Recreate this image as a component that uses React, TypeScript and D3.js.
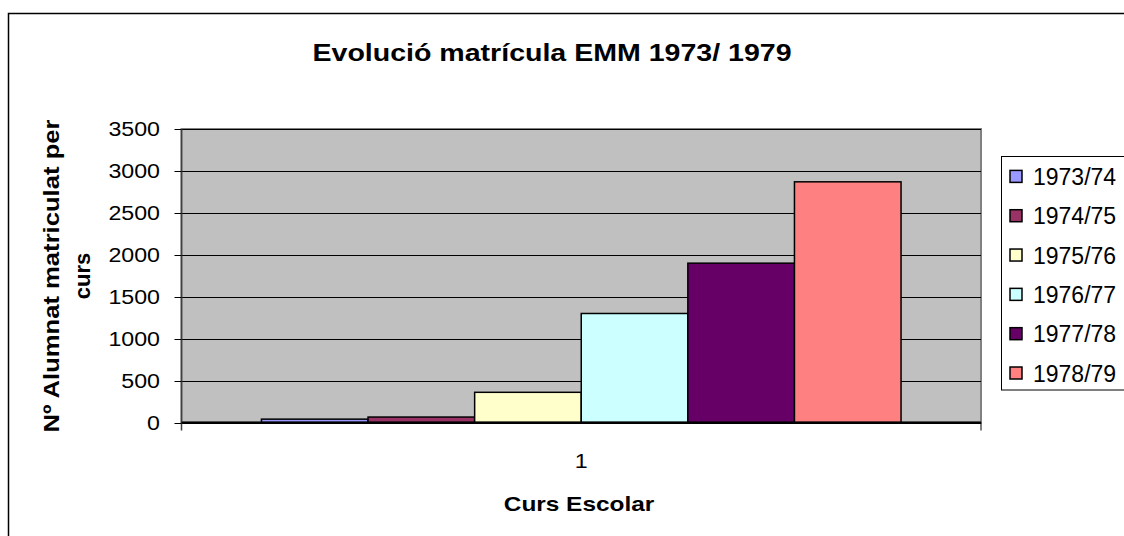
import React from "react";
import * as d3 from "d3";

const categories = ["1"];
const seriesNames = ["1973/74", "1974/75", "1975/76", "1976/77", "1977/78", "1978/79"];
const seriesValues = [40, 65, 360, 1300, 1900, 2870];
const seriesColors = ["#9999FF", "#993366", "#FFFFCC", "#CCFFFF", "#660066", "#FF8080"];
const yTicks = [0, 500, 1000, 1500, 2000, 2500, 3000, 3500];
const title = "Evolució matrícula EMM 1973/ 1979";
const yTitleLines = ["Nº Alumnat matriculat per", "curs"];
const xTitle = "Curs Escolar";

const FONT = "Arial, 'Liberation Sans', Helvetica, sans-serif";

export default function App() {
  const W = 1124;
  const H = 536;
  const plot = { left: 181.5, right: 981, top: 129, bottom: 422.5 };

  const x0 = d3.scaleBand<string>().domain(categories).range([plot.left, plot.right]);
  const y = d3.scaleLinear().domain([0, 3500]).range([plot.bottom, plot.top]);

  // Excel gap width 150% => group occupies 6/7.5 of the band
  const n = seriesNames.length;
  const bandW = x0.bandwidth();
  const barW = bandW / (n + 1.5);
  const groupStart = (x0(categories[0]) as number) + 0.75 * barW;
  const x1 = d3
    .scaleBand<string>()
    .domain(seriesNames)
    .range([groupStart, groupStart + n * barW]);

  const legendY = d3
    .scalePoint<string>()
    .domain(seriesNames)
    .range([176.4, 373]);

  const sx = 1.19;

  return (
    <svg width={W} height={H} style={{ position: "absolute", left: 0, top: 0, display: "block" }} fontFamily={FONT}>
      <rect x={0} y={0} width={W} height={H} fill="#ffffff" />
      {/* chart area border */}
      <rect x={8.5} y={13.5} width={W + 20} height={H + 20} fill="none" stroke="#000" strokeWidth={1.5} />

      {/* title */}
      <g transform={`translate(552,61) scale(${sx},1)`}>
        <text x={0} y={0} textAnchor="middle" fontWeight="bold" fontSize={24} fill="#000">
          {title}
        </text>
      </g>

      {/* plot area */}
      <rect
        x={plot.left}
        y={plot.top}
        width={plot.right - plot.left}
        height={plot.bottom - plot.top}
        fill="#C0C0C0"
        stroke="#808080"
        strokeWidth={2}
      />

      {/* gridlines */}
      {yTicks.map((t) => (
        <line
          key={"g" + t}
          x1={plot.left}
          x2={plot.right}
          y1={Math.round(y(t)) + 0.5}
          y2={Math.round(y(t)) + 0.5}
          stroke="#000"
          strokeWidth={1}
        />
      ))}

      {/* bars */}
      {categories.map((c) =>
        seriesNames.map((s, i) => (
          <rect
            key={c + s}
            x={x1(s) as number}
            y={y(seriesValues[i])}
            width={x1.bandwidth()}
            height={y(0) - y(seriesValues[i])}
            fill={seriesColors[i]}
            stroke="#000"
            strokeWidth={1.5}
          />
        ))
      )}

      {/* axes */}
      <line x1={plot.left} x2={plot.left} y1={plot.top} y2={plot.bottom + 8} stroke="#404040" strokeWidth={1.5} />
      <line x1={plot.left} x2={plot.right} y1={plot.bottom} y2={plot.bottom} stroke="#000" strokeWidth={2} />
      <line x1={plot.right} x2={plot.right} y1={plot.bottom} y2={plot.bottom + 8} stroke="#000" strokeWidth={1} />
      {yTicks.map((t) => (
        <line
          key={"t" + t}
          x1={plot.left - 7}
          x2={plot.left}
          y1={Math.round(y(t)) + 0.5}
          y2={Math.round(y(t)) + 0.5}
          stroke="#000"
          strokeWidth={1}
        />
      ))}

      {/* y tick labels */}
      {yTicks.map((t) => (
        <g key={"l" + t} transform={`translate(160,${y(t) + 7}) scale(${sx},1)`}>
          <text x={0} y={0} textAnchor="end" fontSize={19.5} fill="#000">
            {t}
          </text>
        </g>
      ))}

      {/* x tick label */}
      {categories.map((c) => (
        <g key={"x" + c} transform={`translate(${(x0(c) as number) + bandW / 2},468) scale(${sx},1)`}>
          <text x={0} y={0} textAnchor="middle" fontSize={19.5} fill="#000">
            {c}
          </text>
        </g>
      ))}

      {/* x title */}
      <g transform={`translate(579,511) scale(${sx},1)`}>
        <text x={0} y={0} textAnchor="middle" fontSize={20.5} fontWeight="bold" fill="#000">
          {xTitle}
        </text>
      </g>

      {/* y title */}
      <g transform="translate(59,276) rotate(-90)">
        <text x={0} y={0} textAnchor="middle" fontSize={22} fontWeight="bold" fill="#000" textLength={313} lengthAdjust="spacingAndGlyphs">
          {yTitleLines[0]}
        </text>
      </g>
      <g transform="translate(90,276) rotate(-90)">
        <text x={0} y={0} textAnchor="middle" fontSize={22} fontWeight="bold" fill="#000">
          {yTitleLines[1]}
        </text>
      </g>

      {/* legend */}
      <rect x={1001.5} y={156.5} width={140} height={233.5} fill="#ffffff" stroke="#000" strokeWidth={1} />
      {seriesNames.map((s, i) => (
        <g key={"lg" + s} transform={`translate(0,${legendY(s)})`}>
          <rect x={1010} y={-6} width={12} height={12} fill={seriesColors[i]} stroke="#000" strokeWidth={1.5} />
          <text x={1033} y={8.5} fontSize={23} fill="#000">
            {s}
          </text>
        </g>
      ))}
    </svg>
  );
}
